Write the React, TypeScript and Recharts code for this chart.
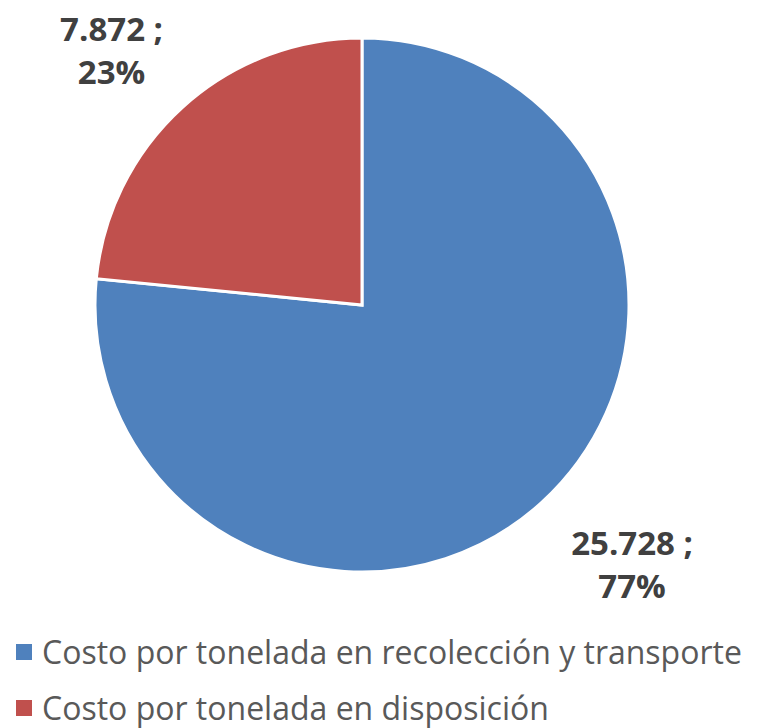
import { PieChart, Pie, Cell, Legend } from 'recharts';

const categories = [
  'Costo por tonelada en recolección y transporte',
  'Costo por tonelada en disposición',
];
const values = [25.728, 7.872];
const valueLabels = ['25.728', '7.872'];
const colors = ['#4F81BD', '#C0504D'];

const data = categories.map((name, i) => ({ name, value: values[i] }));

const RAD = Math.PI / 180;

// Excel-style "outside end" label: box sits diagonally off the rim point
const renderLabel = (props: any) => {
  const { cx, cy, midAngle, outerRadius, percent, index } = props;
  const cos = Math.cos(-midAngle * RAD);
  const sin = Math.sin(-midAngle * RAD);
  const ex = cx + outerRadius * cos;
  const ey = cy + outerRadius * sin;
  const line1 = `${valueLabels[index]} ;`;
  const line2 = `${Math.round(percent * 100)}%`;
  const half = line1.length * 8.6;
  const x = ex + (cos >= 0 ? 22 + half : -11 - half);
  const y = sin >= 0 ? ey + 52 : ey - 66;
  return (
    <text
      x={x}
      y={y}
      textAnchor="middle"
      fill="#404040"
      fontSize={33}
      fontWeight="bold"
      fontFamily="'Open Sans', sans-serif"
    >
      <tspan x={x} dy={0}>{line1}</tspan>
      <tspan x={x} dy={43}>{line2}</tspan>
    </text>
  );
};

const renderLegend = () => (
  <div style={{ fontFamily: "'Open Sans', sans-serif", color: '#595959' }}>
    {categories.map((c, i) => (
      <div
        key={c}
        style={{ display: 'flex', alignItems: 'center', height: 40, marginBottom: 16 }}
      >
        <span
          style={{
            display: 'inline-block',
            width: 16,
            height: 16,
            background: colors[i],
            marginLeft: 16,
            marginRight: 10,
            flexShrink: 0,
          }}
        />
        <span style={{ fontSize: 32, whiteSpace: 'nowrap', lineHeight: '30px' }}>{c}</span>
      </div>
    ))}
  </div>
);

export default function App() {
  return (
    <div style={{ position: 'absolute', left: 0, top: 0, background: '#fff' }}>
      <PieChart width={762} height={728} margin={{ top: 0, right: 0, bottom: 0, left: 0 }}>
        <Pie
          data={data}
          dataKey="value"
          nameKey="name"
          cx={362}
          cy={305}
          outerRadius={267}
          startAngle={90}
          endAngle={-270}
          stroke="#fff"
          strokeWidth={3}
          label={renderLabel}
          labelLine={false}
          isAnimationActive={false}
        >
          {data.map((d, i) => (
            <Cell key={d.name} fill={colors[i]} />
          ))}
        </Pie>
        <Legend
          content={renderLegend}
          wrapperStyle={{ position: 'absolute', left: 0, top: 632, width: 762 }}
        />
      </PieChart>
    </div>
  );
}
